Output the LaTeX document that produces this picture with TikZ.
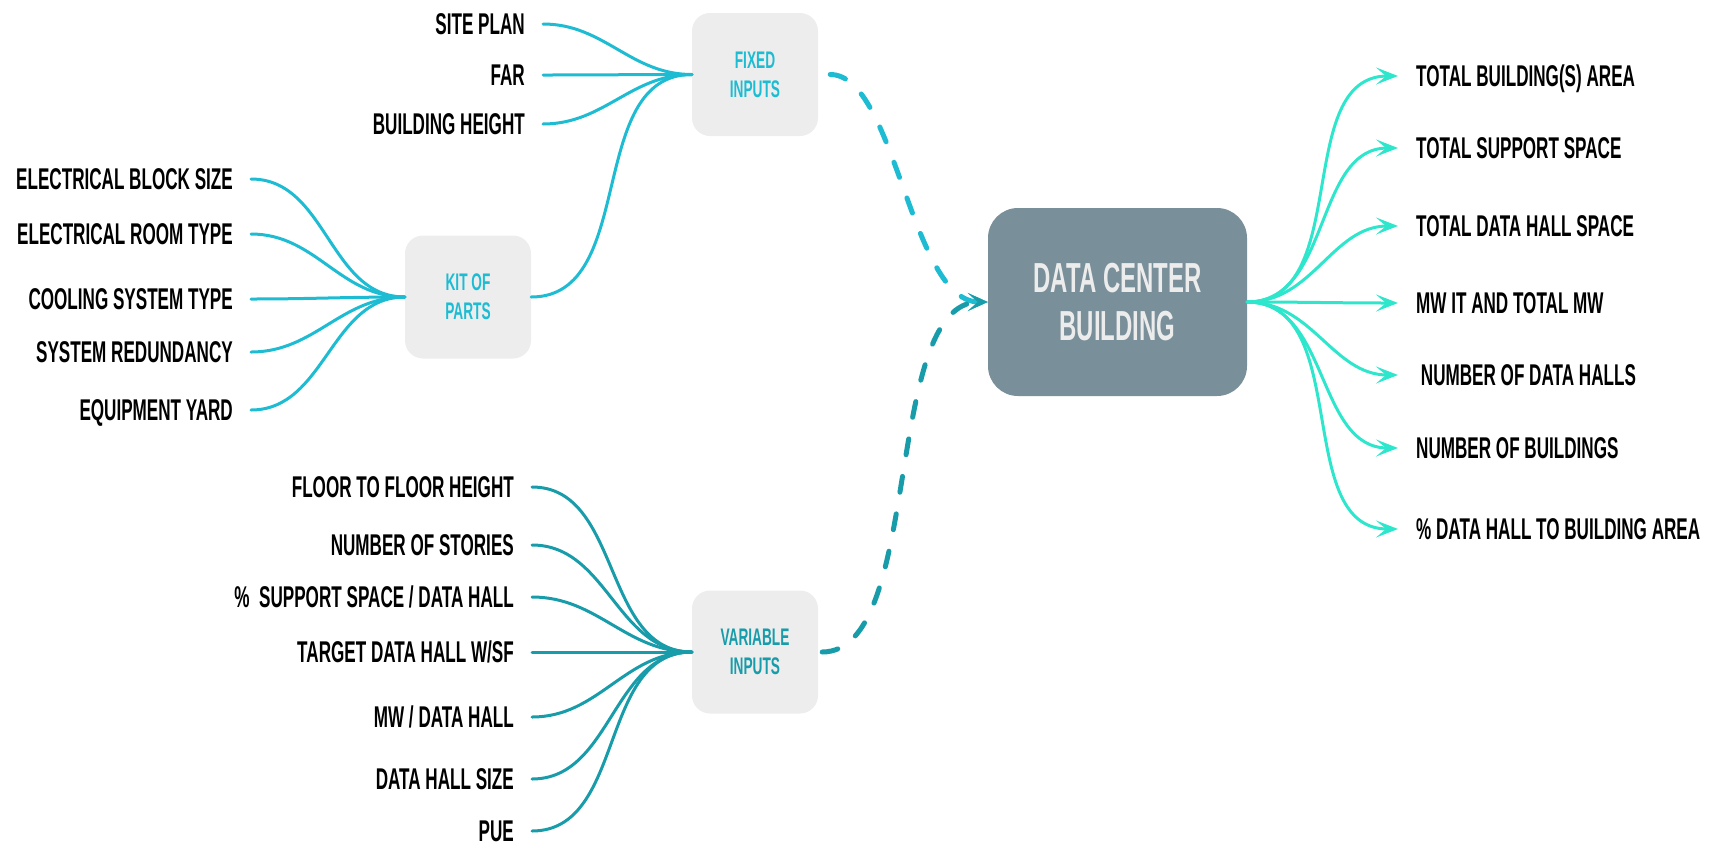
\documentclass[tikz,border=0pt]{standalone}
\usepackage{fontspec}
\newfontfamily\condfont{Liberation Sans}[FakeStretch=0.57]
\usetikzlibrary{arrows.meta}

\definecolor{fixcyan}{RGB}{30,188,210}
\definecolor{varteal}{RGB}{24,156,170}
\definecolor{outaqua}{RGB}{46,230,204}
\definecolor{boxgray}{RGB}{237,237,237}
\definecolor{slate}{RGB}{121,143,153}
\definecolor{paletext}{RGB}{236,236,236}

\begin{document}
\begin{tikzpicture}[x=1pt, y=-1pt, line cap=round, line join=round]
	\tikzset{
		item/.style={font=\condfont\bfseries\fontsize{30}{34}\selectfont, text height=21.5pt, text depth=0pt, inner xsep=18pt, inner ysep=0pt},
		inbox/.style={fill=boxgray, rounded corners=18pt, minimum width=126pt, minimum height=123pt, align=center, font=\condfont\bfseries\fontsize{24}{29}\selectfont},
		fixline/.style={fixcyan, line width=3pt},
		varline/.style={varteal, line width=3pt},
		outline/.style={outaqua, line width=3pt, -{Stealth[length=22pt, width=17pt, inset=10pt]}},
		dashlink/.style={line width=5pt, dash pattern=on 16pt off 22pt, -{Stealth[length=20pt, width=18pt, inset=10pt]}}
	}
	\useasboundingbox (0,0) rectangle (1717,847);

	% boxes
	\node[inbox, text=fixcyan] (fixed) at (755,74.5) {FIXED\\INPUTS};
	\node[inbox, text=fixcyan] (kit) at (468,297) {KIT OF\\PARTS};
	\node[inbox, text=varteal] (var) at (755,652) {VARIABLE\\INPUTS};
	\node[fill=slate, text=paletext, rounded corners=30pt, minimum width=259pt, minimum height=188pt, align=center,
		font=\condfont\bfseries\fontsize{42}{48}\selectfont] (dcb) at (1117.5,302) {DATA CENTER\\BUILDING};

	% fixed inputs
	\node[item, anchor=east] (site) at (543,24) {SITE PLAN};
	\node[item, anchor=east] (far) at (543,75) {FAR};
	\node[item, anchor=east] (bheight) at (543,124) {BUILDING HEIGHT};
	\draw[fixline] (site.east) to[out=0, in=180] (fixed.west);
	\draw[fixline] (far.east) to[out=0, in=180] (fixed.west);
	\draw[fixline] (bheight.east) to[out=0, in=180] (fixed.west);

	% kit of parts
	\node[item, anchor=east] (eblock) at (251,179) {ELECTRICAL BLOCK SIZE};
	\node[item, anchor=east] (eroom) at (251,234) {ELECTRICAL ROOM TYPE};
	\node[item, anchor=east] (cooling) at (251,299) {COOLING SYSTEM TYPE};
	\node[item, anchor=east] (redund) at (251,352) {SYSTEM REDUNDANCY};
	\node[item, anchor=east] (yard) at (251,410) {EQUIPMENT YARD};
	\draw[fixline] (eblock.east) to[out=0, in=180] (kit.west);
	\draw[fixline] (eroom.east) to[out=0, in=180] (kit.west);
	\draw[fixline] (cooling.east) to[out=0, in=180] (kit.west);
	\draw[fixline] (redund.east) to[out=0, in=180] (kit.west);
	\draw[fixline] (yard.east) to[out=0, in=180] (kit.west);
	\draw[fixline] (kit.east) to[out=0, in=180] (fixed.west);

	% variable inputs
	\node[item, anchor=east] (ftf) at (532,487) {FLOOR TO FLOOR HEIGHT};
	\node[item, anchor=east] (stories) at (532,545) {NUMBER OF STORIES};
	\node[item, anchor=east] (support) at (532,597) {\%\ \ SUPPORT SPACE / DATA HALL};
	\node[item, anchor=east] (target) at (532,652) {TARGET DATA HALL W/SF};
	\node[item, anchor=east] (mwhall) at (532,717) {MW / DATA HALL};
	\node[item, anchor=east] (hallsize) at (532,779) {DATA HALL SIZE};
	\node[item, anchor=east] (pue) at (532,831) {PUE};
	\draw[varline] (ftf.east) to[out=0, in=180] (var.west);
	\draw[varline] (stories.east) to[out=0, in=180] (var.west);
	\draw[varline] (support.east) to[out=0, in=180] (var.west);
	\draw[varline] (target.east) to[out=0, in=180] (var.west);
	\draw[varline] (mwhall.east) to[out=0, in=180] (var.west);
	\draw[varline] (hallsize.east) to[out=0, in=180] (var.west);
	\draw[varline] (pue.east) to[out=0, in=180] (var.west);

	% into the building
	\draw[dashlink, fixcyan, shorten <=12pt] (fixed.east) to[out=0, in=180, looseness=0.7] (dcb.west);
	\draw[dashlink, varteal, shorten <=4pt] (var.east) to[out=0, in=180, looseness=0.7] (dcb.west);

	% outputs
	\node[item, anchor=west] (o1) at (1398,76) {TOTAL BUILDING(S) AREA};
	\node[item, anchor=west] (o2) at (1398,148) {TOTAL SUPPORT SPACE};
	\node[item, anchor=west] (o3) at (1398,226) {TOTAL DATA HALL SPACE};
	\node[item, anchor=west] (o4) at (1398,303) {MW IT AND TOTAL MW};
	\node[item, anchor=west] (o5) at (1398,375) {\ NUMBER OF DATA HALLS};
	\node[item, anchor=west] (o6) at (1398,448) {NUMBER OF BUILDINGS};
	\node[item, anchor=west] (o7) at (1398,529) {\% DATA HALL TO BUILDING AREA};
	\draw[outline] (dcb.east) to[out=0, in=180] (o1.west);
	\draw[outline] (dcb.east) to[out=0, in=180] (o2.west);
	\draw[outline] (dcb.east) to[out=0, in=180] (o3.west);
	\draw[outline] (dcb.east) to[out=0, in=180] (o4.west);
	\draw[outline] (dcb.east) to[out=0, in=180] (o5.west);
	\draw[outline] (dcb.east) to[out=0, in=180] (o6.west);
	\draw[outline] (dcb.east) to[out=0, in=180] (o7.west);
\end{tikzpicture}
\end{document}
